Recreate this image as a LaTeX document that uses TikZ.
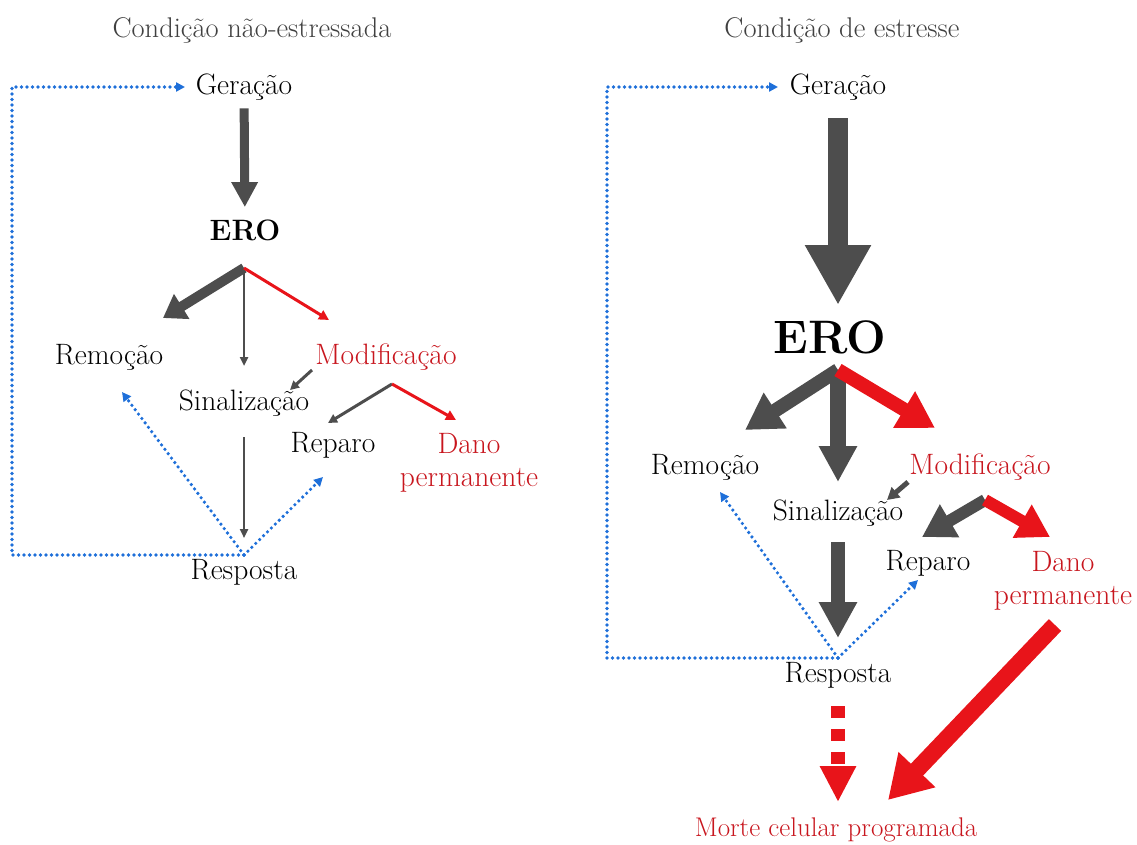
\documentclass[tikz,border=0pt]{standalone}
\usepackage{tikz}
\usetikzlibrary{arrows.meta}
\usetikzlibrary{calc}

\definecolor{arrgray}{HTML}{4D4D4D}
\definecolor{arrred}{HTML}{E8141A}
\definecolor{txtred}{HTML}{C8161E}
\definecolor{loopblue}{HTML}{1E6FD9}
\definecolor{titlegray}{HTML}{404040}

\begin{document}
\begin{tikzpicture}[
    x=1pt, y=-1pt,
    label/.style={inner sep=0pt, font=\fontsize{29.5}{33}\selectfont},
    redlabel/.style={label, text=txtred},
    title/.style={inner sep=0pt, text=titlegray, font=\fontsize{28.5}{32}\selectfont},
    garrow/.style 2 args={draw=arrgray, line width=#1, -{Triangle[#2]}},
    rarrow/.style 2 args={draw=arrred, line width=#1, -{Triangle[#2]}},
    loop/.style={draw=loopblue, line width=3.6pt, line cap=round,
        dash pattern=on 0pt off 5.5pt, -{Triangle[length=9pt,width=9pt]}}
]
    \useasboundingbox (0,0) rectangle (1137,844);

    % titles
    \node[title] (titleL) at (252,30) {Condição não-estressada};
    \node[title] (titleR) at (842,30) {Condição de estresse};

    % unstressed condition
    \node[label] (gerL) at (244,87) {Geração};
    \node[label, font=\fontsize{29.5}{33}\selectfont\bfseries] (eroL) at (245,230) {ERO};
    \node[label] (remL) at (109,357) {Remoção};
    \node[redlabel] (modL) at (386,357) {Modificação};
    \node[label] (sinL) at (244,403) {Sinalização};
    \node[label] (repL) at (333,445) {Reparo};
    \node[redlabel, align=center] (danL) at (469,463) {Dano\\permanente};
    \node[label] (resL) at (244,572) {Resposta};
    \coordinate (jL) at (244,268);
    \coordinate (jL2) at (392,384);
    \coordinate (bL) at (244,555);
    \coordinate (loopL) at (12,87);

    \draw[garrow={9pt}{length=25pt,width=25pt}] ($(gerL)!0.15!(eroL)$) -- ($(gerL)!0.84!(eroL)$);
    \draw[garrow={10pt}{length=22pt,width=28pt}] (jL) -- ($(remL)+(54,-39)$);
    \draw[garrow={2.5pt}{length=9pt,width=8pt}] (jL) -- ($(sinL)+(0,-37)$);
    \draw[rarrow={3pt}{length=10pt,width=10pt}] (jL) -- ($(modL)+(-57,-37)$);
    \draw[garrow={3pt}{length=9pt,width=9pt}] ($(modL)+(-74,13)$) -- ($(sinL)+(46,-13)$);
    \draw[garrow={3pt}{length=9pt,width=9pt}] (jL2) -- ($(repL)+(-5,-22)$);
    \draw[rarrow={3pt}{length=10pt,width=10pt}] (jL2) -- ($(danL)+(-13,-43)$);
    \draw[garrow={2.5pt}{length=9pt,width=8pt}] ($(sinL)+(0,34)$) -- ($(resL)+(0,-34)$);
    \draw[loop] (bL) -| (loopL) -- ($(gerL)+(-59,0)$);
    \draw[loop] (bL) -- ($(remL)+(13,35)$);
    \draw[loop] (bL) -- ($(repL)+(-10,32)$);

    % stress condition
    \node[label] (gerR) at (838,87) {Geração};
    \node[label, font=\fontsize{47}{52}\selectfont\bfseries] (eroR) at (830,337) {ERO};
    \node[label] (remR) at (705,467) {Remoção};
    \node[redlabel] (modR) at (980,467) {Modificação};
    \node[label] (sinR) at (838,513) {Sinalização};
    \node[label] (repR) at (928,563) {Reparo};
    \node[redlabel, align=center] (danR) at (1063,581) {Dano\\permanente};
    \node[label] (resR) at (838,675) {Resposta};
    \node[redlabel, font=\fontsize{27}{31}\selectfont] (morte) at (836,830) {Morte celular programada};
    \coordinate (jR) at (838,370);
    \coordinate (jR2) at (985,500);
    \coordinate (bR) at (838,658);
    \coordinate (loopR) at (607,87);

    \draw[garrow={20pt}{length=60pt,width=62pt}] ($(gerR)+(0,31)$) -- ($(gerR)+(0,218)$);
    \draw[garrow={14pt}{length=36pt,width=40pt}] (jR) -- ($(remR)+(40,-37)$);
    \draw[garrow={16pt}{length=36pt,width=36pt}] (jR) -- ($(sinR)+(0,-31)$);
    \draw[rarrow={14pt}{length=36pt,width=40pt}] (jR) -- ($(modR)+(-45,-39)$);
    \draw[garrow={5pt}{length=12pt,width=13pt}] ($(modR)+(-72,15)$) -- ($(sinR)+(49,-13)$);
    \draw[garrow={12pt}{length=32pt,width=36pt}] (jR2) -- ($(repR)+(-6,-26)$);
    \draw[rarrow={12pt}{length=32pt,width=36pt}] (jR2) -- ($(danR)+(-13,-44)$);
    \draw[garrow={14pt}{length=36pt,width=36pt}] ($(sinR)+(0,29)$) -- ($(resR)+(0,-37)$);
    \draw[rarrow={14pt}{length=36pt,width=34pt}, dash pattern=on 12pt off 11pt] ($(resR)+(0,31)$) -- ($(morte)+(2,-28)$);
    \draw[rarrow={17pt}{length=42pt,width=48pt}] ($(danR)+(-8,44)$) -- ($(morte)+(52,-30)$);
    \draw[loop] (bR) -| (loopR) -- ($(gerR)+(-60,0)$);
    \draw[loop] (bR) -- ($(remR)+(15,25)$);
    \draw[loop] (bR) -- ($(repR)+(-10,17)$);
\end{tikzpicture}
\end{document}
